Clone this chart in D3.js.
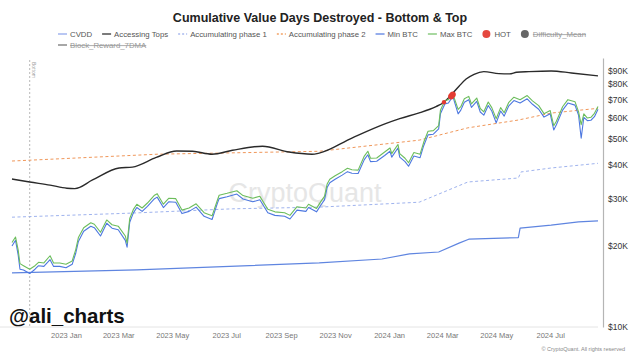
<!DOCTYPE html>
<html>
<head>
<meta charset="utf-8">
<script src="https://cdn.jsdelivr.net/npm/d3@7"></script>
<style>
  body { margin: 0; background: #fff; }
  svg { font-family: "Liberation Sans", Arial, sans-serif; }
</style>
</head>
<body>
<svg id="chart"></svg>
<script>
// price, values in $K
const priceDates = [
  "2022-11-01","2022-11-05","2022-11-08","2022-11-10","2022-11-14","2022-11-21","2022-11-27","2022-12-01","2022-12-07","2022-12-14","2022-12-18","2022-12-25",
  "2023-01-01","2023-01-08","2023-01-12","2023-01-15","2023-01-21","2023-01-29","2023-02-02","2023-02-09","2023-02-16","2023-02-22",
  "2023-03-01","2023-03-09","2023-03-11","2023-03-14","2023-03-18","2023-03-22","2023-03-28","2023-04-03","2023-04-11","2023-04-14","2023-04-21","2023-04-27",
  "2023-05-05","2023-05-12","2023-05-20","2023-05-28","2023-06-06","2023-06-15","2023-06-21","2023-06-23","2023-07-02","2023-07-13","2023-07-20","2023-07-31",
  "2023-08-08","2023-08-17","2023-08-25","2023-09-05","2023-09-11","2023-09-19","2023-09-29","2023-10-02","2023-10-11","2023-10-16","2023-10-20","2023-10-23","2023-10-26",
  "2023-11-01","2023-11-09","2023-11-15","2023-11-20","2023-11-27","2023-12-04","2023-12-08","2023-12-11","2023-12-18","2023-12-27",
  "2024-01-02","2024-01-04","2024-01-11","2024-01-13","2024-01-19","2024-01-23","2024-01-29","2024-02-05","2024-02-09","2024-02-14","2024-02-20","2024-02-26","2024-02-28",
  "2024-03-04","2024-03-08","2024-03-13","2024-03-19","2024-03-22","2024-03-26","2024-03-31","2024-04-03","2024-04-09","2024-04-13","2024-04-17","2024-04-22","2024-04-26",
  "2024-05-01","2024-05-06","2024-05-10","2024-05-15","2024-05-21","2024-05-28","2024-06-05","2024-06-11","2024-06-18","2024-06-24",
  "2024-07-01","2024-07-05","2024-07-08","2024-07-15","2024-07-21","2024-07-29","2024-08-02","2024-08-05","2024-08-08","2024-08-12","2024-08-16","2024-08-20","2024-08-24"
];
const minBTC = [
  20.0,21.0,18.5,16.4,16.3,15.8,16.4,16.9,16.8,17.8,16.8,16.8,
  16.6,17.1,18.8,20.8,22.7,23.7,23.4,21.8,24.3,23.3,
  23.0,21.0,19.8,24.5,26.5,27.8,26.9,28.1,30.0,30.4,27.8,29.2,
  29.1,26.4,26.9,27.9,25.8,25.1,28.8,30.0,30.5,31.2,29.9,29.2,
  29.7,26.6,26.0,25.8,25.2,27.2,26.9,27.8,26.8,28.4,29.7,33.0,34.4,
  35.4,36.7,37.8,37.3,37.2,41.9,43.7,41.2,41.3,43.4,
  45.0,42.8,46.3,42.8,41.2,39.6,43.2,42.6,47.1,51.8,52.1,54.5,62.0,
  67.5,68.0,72.0,62.0,64.0,68.5,70.0,65.5,69.0,63.0,61.3,66.6,63.5,
  57.4,63.5,60.8,66.2,69.5,68.0,70.5,67.3,64.5,60.3,
  62.0,54.0,56.5,64.0,68.0,66.8,61.4,50.3,60.2,58.5,58.7,60.5,64.5
];
const maxBTC = [
  20.6,21.6,19.3,17.2,16.9,16.4,16.9,17.4,17.3,18.4,17.3,17.3,
  17.1,17.6,19.4,21.5,23.4,24.4,24.1,22.5,25.0,24.0,
  23.7,21.8,20.5,25.3,27.3,28.6,27.7,28.9,30.9,31.3,28.6,30.1,
  30.0,27.2,27.7,28.7,26.6,25.9,29.6,30.9,31.4,32.1,30.8,30.1,
  30.6,27.4,26.8,26.6,26.0,28.0,27.7,28.6,27.6,29.3,30.6,34.0,35.4,
  36.5,37.8,38.9,38.4,38.3,43.2,45.0,42.4,42.5,44.7,
  46.3,44.1,47.7,44.1,42.4,40.8,44.5,43.9,48.5,53.4,53.7,56.1,63.9,
  69.5,70.0,73.5,64.4,65.9,70.5,72.0,67.5,71.0,64.9,63.1,68.6,65.4,
  59.5,65.4,62.6,68.2,71.5,70.0,72.5,69.3,66.5,62.1,
  63.8,56.0,58.2,65.9,70.0,68.8,63.2,56.5,62.0,59.8,60.2,62.3,66.0
];

const topDates = ["2022-11-01","2022-11-21","2022-12-14","2023-01-02","2023-01-11","2023-01-31","2023-03-02","2023-03-17","2023-04-13","2023-05-06","2023-05-24","2023-06-15","2023-07-08","2023-08-11","2023-09-10","2023-10-06","2023-10-14","2023-11-20","2023-12-28","2024-01-13","2024-02-04","2024-02-16","2024-02-23","2024-03-03","2024-03-11","2024-03-20","2024-03-28","2024-04-06","2024-04-17","2024-05-04","2024-05-16","2024-05-24","2024-06-07","2024-07-02","2024-07-25","2024-08-24"];
const accessingTops = [35.5,34.6,33.7,32.8,32.7,35.2,39.0,39.3,42.7,45.1,45.0,43.9,45.4,47.0,44.7,43.9,44.3,50.4,57.0,59.5,62.5,64.5,66.0,68.5,72.8,78.5,83.5,87.0,89.0,87.5,87.3,88.5,89.0,89.5,88.0,85.8];

const phase2Dates = ["2022-11-01","2023-04-15","2023-10-14","2024-02-04","2024-03-30","2024-05-26","2024-07-02","2024-08-24"];
const accumPhase2 = [41.4,43.9,45.0,49.5,55.0,58.8,62.4,65.0];

const phase1Dates = ["2022-11-01","2023-03-15","2023-07-08","2023-10-14","2024-02-04","2024-03-30","2024-05-26","2024-05-29","2024-07-02","2024-08-24"];
const accumPhase1 = [25.6,26.5,27.5,27.9,29.1,34.6,35.8,37.7,39.0,40.6];

const cvddDates = ["2022-11-01","2023-03-22","2023-10-14","2023-12-24","2024-01-24","2024-02-26","2024-03-20","2024-03-31","2024-05-26","2024-05-28","2024-07-02","2024-08-02","2024-08-24"];
const cvdd = [15.9,16.3,17.3,17.9,18.7,19.0,20.5,21.2,21.5,23.3,23.9,24.6,24.8];

const hotDates = ["2024-03-03","2024-03-11","2024-03-12","2024-03-13"];
const hotValues = [68.5,72.0,72.6,73.2];

const bottomDate = "2022-11-21";
const xTicks = ["2023-01-01","2023-03-01","2023-05-01","2023-07-01","2023-09-01","2023-11-01","2024-01-01","2024-03-01","2024-05-01","2024-07-01"];
const yTicks = [10,20,30,40,50,60,70,80,90];

const legendItems = [
  {name: "CVDD", type: "line", color: "#93a9ec"},
  {name: "Accessing Tops", type: "line", color: "#333"},
  {name: "Accumulating phase 1", type: "dash", color: "#a9b9ee"},
  {name: "Accumulating phase 2", type: "dash", color: "#f2a365"},
  {name: "Min BTC", type: "line", color: "#5b80e2"},
  {name: "Max BTC", type: "line", color: "#79c36d"},
  {name: "HOT", type: "dot", color: "#e5483f"},
  {name: "Difficulty_Mean", type: "dot", color: "#666", off: true},
  {name: "Block_Reward_7DMA", type: "line", color: "#777", off: true, row: 1}
];

class CvddChart {
    margin = {top: 58, right: 42, bottom: 33, left: 12}

    constructor(svg, width = 640, height = 360) {
        this.svg = svg;
        this.width = width;
        this.height = height;
    }

    initialize() {
        this.svg = d3.select(this.svg)
            .attr("width", this.width)
            .attr("height", this.height);

        this.parse = d3.timeParse("%Y-%m-%d");
        this.x = d3.scaleTime()
            .domain([this.parse("2022-11-01"), this.parse("2024-08-24")])
            .range([this.margin.left, this.width - this.margin.right]);
        this.y = d3.scaleLog()
            .domain([10, 100])
            .range([this.height - this.margin.bottom, this.margin.top]);

        this.back = this.svg.append("g");
        this.container = this.svg.append("g");
        this.legend = this.svg.append("g");
    }

    series(dates, values) {
        return dates.map((d, i) => ({date: this.parse(d), value: values[i]}));
    }

    drawLine(data, color, width, dash, curve) {
        const line = d3.line()
            .curve(curve || d3.curveLinear)
            .x(d => this.x(d.date))
            .y(d => this.y(d.value));
        this.container.append("path")
            .datum(data)
            .attr("fill", "none")
            .attr("stroke", color)
            .attr("stroke-width", width)
            .attr("stroke-dasharray", dash || null)
            .attr("stroke-linejoin", "round")
            .attr("d", line);
    }

    update() {
        const x = this.x, y = this.y;
        const bottomY = this.height - this.margin.bottom;

        // title
        this.svg.append("text")
            .attr("x", 320).attr("y", 22)
            .attr("text-anchor", "middle")
            .attr("font-size", 12.5).attr("font-weight", "bold")
            .attr("fill", "#222")
            .text("Cumulative Value Days Destroyed - Bottom & Top");

        // watermark
        this.back.append("text")
            .attr("x", 305).attr("y", 202)
            .attr("text-anchor", "middle")
            .attr("font-size", 27)
            .attr("fill", "#e6e6e6")
            .text("CryptoQuant");

        // x axis
        const xAxis = this.back.append("g")
            .attr("transform", `translate(0, ${bottomY})`)
            .call(d3.axisBottom(x)
                .tickValues(xTicks.map(this.parse))
                .tickFormat(d3.timeFormat("%Y %b"))
                .tickSize(0).tickPadding(6));
        xAxis.select(".domain").attr("stroke", "#e4e4e4").attr("d", `M0,0H${this.width - this.margin.right}`);
        xAxis.selectAll("text").attr("font-size", 7.5).attr("fill", "#777").attr("font-family", null);

        // y axis on the right
        const yAxis = this.back.append("g")
            .attr("transform", `translate(${this.width - this.margin.right + 5}, 0)`)
            .call(d3.axisRight(y)
                .tickValues(yTicks)
                .tickFormat(d => `$${d}K`)
                .tickSize(0).tickPadding(5));
        yAxis.select(".domain").attr("stroke", "#b5b5b5").attr("stroke-width", 1.2);
        yAxis.selectAll("text").attr("font-size", 8.5).attr("fill", "#333").attr("font-family", null);

        // bottom marker
        const bx = x(this.parse(bottomDate));
        this.back.append("line")
            .attr("x1", bx).attr("x2", bx)
            .attr("y1", this.margin.top + 2).attr("y2", bottomY)
            .attr("stroke", "#b8b8b8").attr("stroke-dasharray", "2,2");
        this.back.append("text")
            .attr("transform", `translate(${bx + 2}, ${this.margin.top + 4}) rotate(90)`)
            .attr("font-size", 5).attr("fill", "#999")
            .text("Bottom");

        this.drawLine(this.series(cvddDates, cvdd), "#5f85e0", 1.2);
        this.drawLine(this.series(phase1Dates, accumPhase1), "#9fb3ee", 1, "3,2.5");
        this.drawLine(this.series(phase2Dates, accumPhase2), "#f0975a", 1, "3,2.5");
        this.drawLine(this.series(topDates, accessingTops), "#2a2a2a", 1.4, null, d3.curveMonotoneX);
        this.drawLine(this.series(priceDates, minBTC), "#4d78e0", 1.1);
        this.drawLine(this.series(priceDates, maxBTC), "#6cbd5c", 1.1);

        this.container.selectAll("circle.hot")
            .data(this.series(hotDates, hotValues))
            .join("circle")
            .attr("class", "hot")
            .attr("cx", d => x(d.date))
            .attr("cy", d => y(d.value))
            .attr("r", (d, i) => i === 0 ? 2.2 : 3)
            .attr("fill", "#e33b32");

        // handle & copyright
        this.svg.append("text")
            .attr("x", 9).attr("y", 323)
            .attr("font-size", 20.5).attr("font-weight", "bold")
            .attr("fill", "#111")
            .text("@ali_charts");
        this.svg.append("text")
            .attr("x", 625).attr("y", 351)
            .attr("text-anchor", "end")
            .attr("font-size", 5.5).attr("fill", "#888")
            .text("© CryptoQuant. All rights reserved");

        this.drawLegend();
    }

    drawLegend() {
        let cx = 58;
        legendItems.forEach(item => {
            if (item.row === 1) cx = 58;
            const ly = item.row === 1 ? 48 : 37;
            const g = this.legend.append("g");
            if (item.type === "dot") {
                g.append("circle").attr("cx", cx + 4).attr("cy", ly - 3).attr("r", 4).attr("fill", item.color);
            } else {
                g.append("line")
                    .attr("x1", cx).attr("x2", cx + 9)
                    .attr("y1", ly - 3).attr("y2", ly - 3)
                    .attr("stroke", item.color).attr("stroke-width", 1.3)
                    .attr("stroke-dasharray", item.type === "dash" ? "2,2" : null);
            }
            const t = g.append("text")
                .attr("x", cx + 12).attr("y", ly)
                .attr("font-size", 7.8)
                .attr("fill", item.off ? "#999" : "#555")
                .attr("text-decoration", item.off ? "line-through" : null)
                .text(item.name);
            cx += 12 + t.node().getComputedTextLength() + 10;
        });
    }
}

const chart = new CvddChart(document.getElementById("chart"));
chart.initialize();
chart.update();
</script>
</body>
</html>
